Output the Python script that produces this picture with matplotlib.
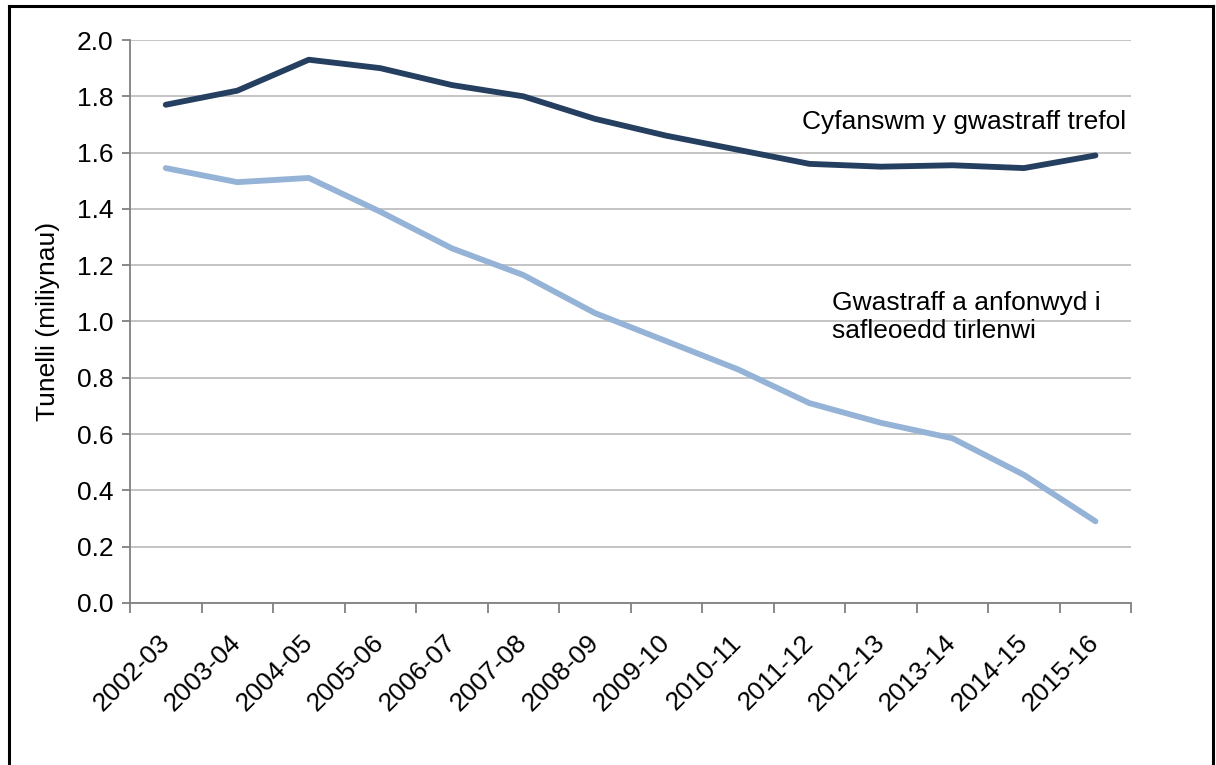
import numpy as np
import matplotlib.pyplot as plt
import matplotlib as mpl
from matplotlib.lines import Line2D

mpl.rcParams['font.family'] = ['Liberation Sans', 'DejaVu Sans']
mpl.rcParams['font.size'] = 19

years = ['2002-03', '2003-04', '2004-05', '2005-06', '2006-07', '2007-08', '2008-09',
         '2009-10', '2010-11', '2011-12', '2012-13', '2013-14', '2014-15', '2015-16']
total_waste = [1.77, 1.82, 1.93, 1.90, 1.84, 1.80, 1.72, 1.66, 1.61, 1.56, 1.55, 1.555, 1.545, 1.59]
landfill = [1.545, 1.495, 1.51, 1.39, 1.26, 1.165, 1.03, 0.93, 0.83, 0.71, 0.64, 0.585, 0.455, 0.29]

dark = '#243F60'
light = '#95B3D7'

fig = plt.figure(figsize=(12.16, 7.65), dpi=100)
ax = fig.add_axes([0.1069, 0.2118, 0.8234, 0.7359])

x = np.arange(len(years))
ax.plot(x, total_waste, color=dark, lw=4.2, solid_capstyle='round', solid_joinstyle='round', zorder=3)
ax.plot(x, landfill, color=light, lw=4.2, solid_capstyle='round', solid_joinstyle='round', zorder=3)

ax.set_xlim(-0.5, len(years) - 0.5)
ax.set_ylim(0, 2.0)
ax.set_yticks(np.arange(0, 2.01, 0.2))
ax.set_yticklabels([f'{v:.1f}' for v in np.arange(0, 2.01, 0.2)])
ax.yaxis.grid(True, color='#BFBFBF', lw=1.3)
ax.set_axisbelow(True)

ax.set_xticks(x)
ax.set_xticklabels(years, rotation=45, ha='right', va='center', rotation_mode='anchor')
ax.set_xticks(np.arange(-0.5, len(years)), minor=True)
ax.tick_params(axis='x', which='major', length=0, pad=26)
ax.tick_params(axis='x', which='minor', length=7, width=1.3, color='#808080')
ax.tick_params(axis='y', length=6, width=1.3, color='#808080', pad=6)

for s in ['top', 'right']:
    ax.spines[s].set_visible(False)
for s in ['left', 'bottom']:
    ax.spines[s].set_color('#808080')
    ax.spines[s].set_linewidth(1.3)

ax.set_ylabel('Tunelli (miliynau)', labelpad=12)

ax.text(8.9, 1.709, 'Cyfanswm y gwastraff trefol', va='center', ha='left')
ax.text(9.32, 1.016, 'Gwastraff a anfonwyd i\nsafleoedd tirlenwi', va='center', ha='left',
        linespacing=1.2)

# frame around the chart (bottom edge is cut off in the original)
for xs, ys in [([0.0074, 0.0074], [0.0, 0.9925]),
               ([0.0074, 0.9975], [0.9925, 0.9925]),
               ([0.9975, 0.9975], [0.9925, 0.0])]:
    fig.add_artist(Line2D(xs, ys, transform=fig.transFigure, color='black', lw=2.2))

plt.savefig('out.png', dpi=100)
